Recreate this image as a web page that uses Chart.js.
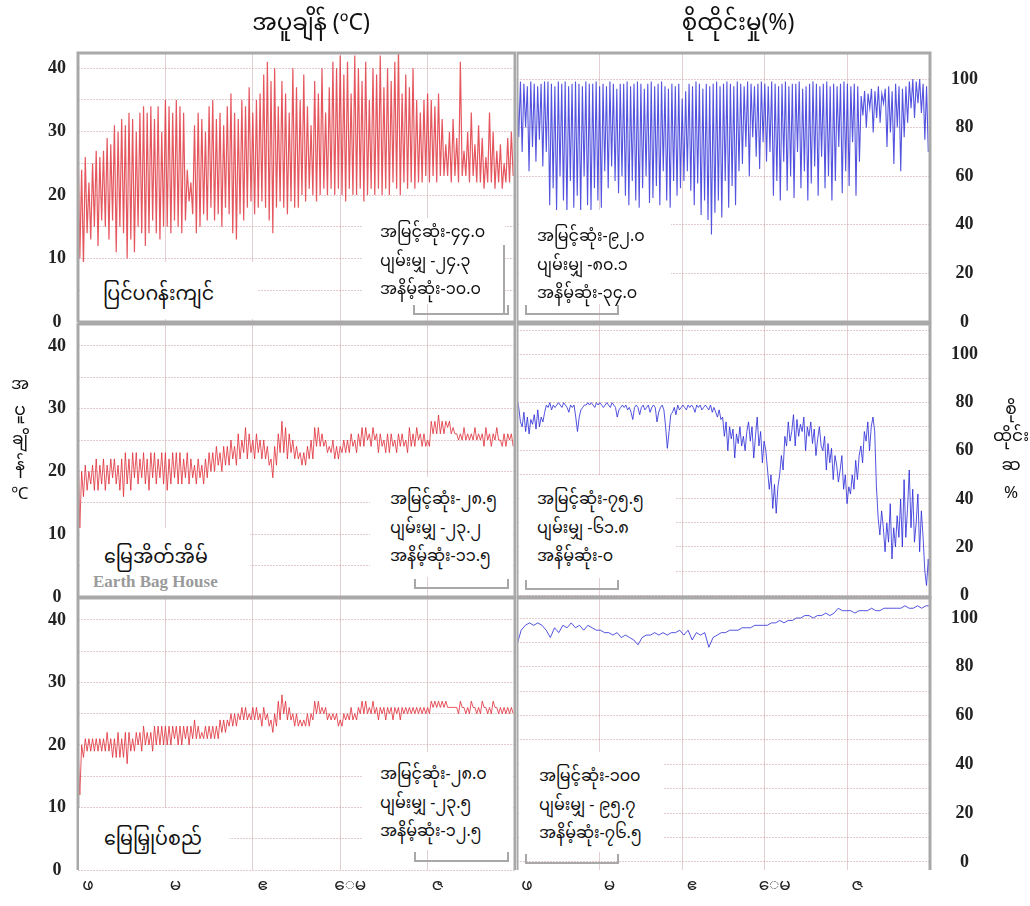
<!DOCTYPE html>
<html>
<head>
<meta charset="utf-8">
<script src="https://cdn.jsdelivr.net/npm/chart.js@4"></script>
<style>
  body { margin: 0; background: #fff; width: 1030px; height: 906px; position: relative; overflow: hidden;
         font-family: "Noto Sans Myanmar", "Padauk", "Myanmar Text", "Noto Sans", sans-serif; color: #111; }
  canvas { position: absolute; }
  .t { position: absolute; white-space: nowrap; }
  .box { position: absolute; background: #fff; z-index: 5; }
  .stat { position: absolute; background: #fff; z-index: 5; font-size: 16px; line-height: 28.5px; }
  .brk { position: absolute; border: 2px solid #a8a8a8; border-top: none; z-index: 6; }
</style>
</head>
<body>
<script>
// ---- data ----
const months = ['ဖ', 'မ', 'ဧ', '\u1031မ', 'ဇ'];

// outside temperature, daily max / min (ºC)
const outTempHi = [29,24,26,22,25,27,26, 27,29,28,31,30,32,31,33,32,30,33,
  34,33,34,32,34,30,35,34,33,35,34,33, 24,22,
  31,33,32,30,34,35,32,33,31,34,36,33,32,35,34,37,33,35,36, 39,41,38,40,34,
  38,36,33,40,37,35,39,34,31,38,36,40,33,37,
  41,40,42,39,41,36,42,40,38,41,35,40,39,42,37,40,38,41,43,36,39,37,40,35,
  33,35,36,35,34,36,32, 28,30,32,29,41,27,30,33,28,31,29,26,33,30,27,28,25,29,30];
const outTempLo = [10,9,14,13,15,12,16, 15,13,16,11,15,14,10,13,11,15,14,
  12,14,16,14,13,15,15,14,16,15,14,16, 19,17,
  14,15,17,16,18,16,17,15,18,17,14,13,17,16,18,19,17,18,19, 18,16,14,18,19,
  18,17,19,18,18,20,19,21,20,19,20,21,20,21,
  20,21,20,19,21,20,20,21,19,20,21,20,21,20,21,20,22,21,20,22,21,22,21,22,
  22,23,22,23,22,23,23, 23,22,23,22,23,23,22,23,22,22,21,22,22,21,22,21,22,22,23];

// outside humidity, daily max / min (%)
const outHumHi = [98,99,98,97,99,98,97,98,99, 99,98,97,99,98,99,97,98,99,98,97,99,98,98,99,97,
  98,97,99,98,96,98, 98,99,97,98,99,98,96,98,99,97,98,99,97,96,98,97,98,
  92,95,98,97,99,98,96,98, 97, 98,99,97,98,99,98,97,99, 98,97,99,98,97,98,99,98,97,
  99,98,97,98,99,97,98,98,99,96,97,98,99,98,97,98,99,97,98,97,98,99,98,97,98,97,
  93,95,94,96,95,97,94, 96,97,95,98,97,96,97, 99,100,99,100,98,97];
const outHumLo = [76,70,80,62,72,66,75,64,70, 48,55,46,60,50,45,58,47,52,45,60,48,46,55,50,47,
  62,55,64,58,53,60, 52,48,58,50,47,55,60,49,51,56,48,62,50,47,58,52,55,
  58,62,54,48,57,44,50,42, 36, 45,50,43,58,47,56,48,62, 65,72,60,76,68,63,74,66,70,
  52,58,50,66,54,60,51,70,55,62,50,57,64,52,68,55,60,50,58,72,53,62,56,74,52,66,
  85,80,88,78,84,82,90, 72,78,65,80,62,76,82, 88,84,90,86,75,70];

// earth bag house temperature, daily max / min (ºC)
const bagTempHi = [25, 20,21,20,21,22, 21,22,21,22,22,21,22,23,22,23, 23,22,23,22,23,23,22,
  23,23,22,23,23,23,22,23, 22,21,22,21,22,23, 23,24,23,24,24,25,24, 26,25,27,26,25,26,25,25,
  24,22,24, 26,28,27,26,25, 24,23,23,24,25, 27,27,26,25, 24,25,24,24,25, 25,26,25,26,
  27,27,26,27, 26,26,25,26,26,25,26,26,25, 27,26,27,26,26,25, 28,28,29,28,28,28,27,
  26,26,27,26,26,27,26,26,27,26,26,27,25,26,26,26];
const bagTempLo = [11, 16,17,18,17,17, 18,17,18,19,18,17,16,18,17,19, 18,19,18,17,19,18,19,
  18,17,18,19,18,18,19,18, 19,18,19,18,19,20, 20,21,20,21,21,22,21, 22,23,22,23,22,23,22,22,
  21,19,21, 23,23,22,23,22, 22,21,21,22,22, 24,24,24,23, 23,22,22,23,23, 23,24,23,24,
  24,25,24,25, 23,24,23,23,24,23,24,24,23, 24,24,25,24,24,24, 26,26,26,26,27,26,26,
  25,25,25,25,25,25,25,24,25,24,25,25,24,24,25,24];

// earth bag house humidity (%)
const bagHum = [82,78, 72,70,76,68,74,67,73,71,75,69,77,70,74,72,76, 79,78,80,77,79,78,
  79,80,79,78,80,79,78,76,79,78,79,74,68,74, 77,78,79,
  79,80,79,80,79,78,80,79,80,79,78,79,80,79,78,80,79,78,74,77,
  78,79,78,79,77,78,76,73,78,79,78,75,78,79,77,78,79,76,78,79,78,72,76,78,79,77,
  70,61,68,75,
  76,78,75,79,77,78,79,78,77,79,78,79,78,76,79,78,79,77,78,79,78,77,79,76,78,76,74,77,73,
  74,66,72,60,70,65,69,57,67,63,70,62,66,60,68, 72,64,70,57,66,74,62,68,55,64,60,
  52,44,50,36,46,34,45,50, 58,52,66,62,72,64,68,75,62,73,66,71, 68,74,60,70,66,72,63,69,58,65,70,62,
  60,66,52,63,55,61,48,58,54,47,52,58,44,50,38,45,42, 50,44,56,48,58, 62,55,68,64,72,60,70,74,68,
  45,32,25,35,28, 18,30,22,38,15,28,20,33,24, 40,20,48,24,36,52,28,44,22, 30,42,18,35,24,10, 4,15,2];

// buried system temperature, daily max / min (ºC)
const burTempHi = [20, 20,21,21,21,21, 21,21,22,21,21,22,21,22,22,21, 22,22,23,22,22,23,23,
  23,23,23,23,23,23,23,23, 23,24,23,22,23,23, 23,23,24,24,24,25,25, 25,26,26,25,26,26,25,26,
  25,24,25, 27,28,27,26,25, 25,24,24,25,25, 27,27,26,26, 25,25,25,24,25, 25,26,25,26,
  27,27,26,27, 26,26,26,26,26,26,26,26,26, 26,26,26,26,26,26, 27,27,27,27,27,26,26,
  26,27,26,26,27,26,26,27,26,26,27,26,26,26,26,26];
const burTempLo = [12, 18,19,19,19,19, 19,19,19,18,18,18,18,17,19,19, 20,19,20,20,19,20,20,
  20,20,20,21,20,20,21,20, 21,21,21,21,21,21, 21,21,22,22,23,23,23, 24,24,24,24,24,24,23,24,
  23,22,23, 24,25,24,24,23, 23,23,23,23,24, 25,25,25,24, 24,24,23,23,24, 24,24,24,25,
  25,25,25,25, 24,25,24,25,24,25,24,25,25, 25,25,25,25,25,25, 26,26,26,26,26,26,26,
  25,26,25,25,26,25,25,26,25,25,26,25,25,25,25,25];

// buried system humidity (%)
const burHum = [89,95, 97,98,97,98,97, 95,92,96,94, 97,96,98,96,97,95,97, 96,95,95,94,94,93,94,
  92,93,92,91,89,92, 93,93,94,93,94,93,94,94, 95,93,95,91,94,93, 94,88,92,
  93,94,94,95,95,95,96,96,96,97,97,97, 97,98,98,99,98,99,99,100, 100,101,101,100,101,101,102,101,102,
  104,103,103,103,102,103,103,103,104,103,103,104,104,104,104,104,105,104,104,105,104,105,105];

const tempTicks = [0, 10, 20, 30, 40];
const humTicks = [0, 20, 40, 60, 80, 100];

const statsOut = ['အမြင့်ဆုံး-၄၄.၀', 'ပျမ်းမျှ -၂၄.၃', 'အနိမ့်ဆုံး-၁၀.၀'];
const statsOutHum = ['အမြင့်ဆုံး-၉၂.၀', 'ပျမ်းမျှ -၈၀.၁', 'အနိမ့်ဆုံး-၃၄.၀'];
const statsBag = ['အမြင့်ဆုံး-၂၈.၅', 'ပျမ်းမျှ -၂၃.၂', 'အနိမ့်ဆုံး-၁၁.၅'];
const statsBagHum = ['အမြင့်ဆုံး-၇၅.၅', 'ပျမ်းမျှ -၆၁.၈', 'အနိမ့်ဆုံး-၀'];
const statsBur = ['အမြင့်ဆုံး-၂၈.၀', 'ပျမ်းမျှ -၂၃.၅', 'အနိမ့်ဆုံး-၁၂.၅'];
const statsBurHum = ['အမြင့်ဆုံး-၁၀၀', 'ပျမ်းမျှ - ၉၅.၇', 'အနိမ့်ဆုံး-၇၆.၅'];

// ---- helpers ----
const SPAN = 120;
function zigzag(hi, lo) {
  const pts = [];
  hi.forEach((h, i) => { pts.push({x: i, y: h}); pts.push({x: i + 0.5, y: lo[i]}); });
  return pts;
}
function spread(vals) {
  const n = vals.length;
  return vals.map((v, i) => ({x: i * SPAN / (n - 1), y: v}));
}

const RED = 'rgba(222,45,55,0.8)';
const BLUE = 'rgba(40,40,215,0.8)';
const MY_FONT = '"Noto Sans Myanmar", Padauk, "Myanmar Text", sans-serif';
const M = 14;

const frame = {
  id: 'frame',
  afterDraw(chart, args, o) {
    const {ctx, chartArea: a} = chart;
    ctx.save();
    ctx.strokeStyle = '#a9a9a9';
    ctx.lineWidth = 3;
    ctx.beginPath();
    ctx.moveTo(a.left, a.bottom);
    ctx.lineTo(a.left, a.top);
    ctx.lineTo(a.right, a.top);
    ctx.lineTo(a.right, a.bottom);
    if (o.bottom) ctx.lineTo(a.left, a.bottom);
    ctx.stroke();
    ctx.restore();
  }
};

const panels = [
  {side: 'left', top: 53, bottom: 322, min: 0, max: 42.4, data: zigzag(outTempHi, outTempLo), color: RED, lw: 1.2, closed: true},
  {side: 'right', top: 53, bottom: 322, min: 0, max: 110.7, data: zigzag(outHumHi, outHumLo), color: BLUE, lw: 1.1, closed: true},
  {side: 'left', top: 324, bottom: 597, min: 0, max: 43.5, data: zigzag(bagTempHi, bagTempLo), color: RED, lw: 1, closed: true},
  {side: 'right', top: 324, bottom: 597, min: -0.8, max: 112.7, data: spread(bagHum), color: BLUE, lw: 1, closed: true},
  {side: 'left', top: 598, bottom: 870, min: 0, max: 43.5, data: zigzag(burTempHi, burTempLo), color: RED, lw: 1, xLabels: true},
  {side: 'right', top: 598, bottom: 870, min: -3.3, max: 108.2, data: spread(burHum), color: BLUE, lw: 1, xLabels: true}
];

panels.forEach(p => {
  const left = p.side === 'left';
  const c = document.createElement('canvas');
  const w = left ? 486 : 485;
  const h = p.bottom - p.top + M + (p.xLabels ? 36 : M);
  c.width = w; c.height = h;
  c.style.left = (left ? 34 : 517) + 'px';
  c.style.top = (p.top - M) + 'px';
  document.body.appendChild(c);
  const ticks = left ? tempTicks : humTicks;

  new Chart(c, {
    type: 'line',
    data: {
      datasets: [{
        data: p.data,
        borderColor: p.color,
        borderWidth: p.lw,
        pointRadius: 0,
        tension: 0
      }]
    },
    options: {
      responsive: false,
      animation: false,
      devicePixelRatio: 1,
      layout: { padding: { left: 0, right: left ? 5 : 0, top: M, bottom: p.xLabels ? 6 : M } },
      plugins: { legend: { display: false }, tooltip: { enabled: false }, frame: { bottom: p.closed } },
      scales: {
        x: {
          type: 'linear', min: 0, max: SPAN,
          afterFit: s => { s.height = p.xLabels ? 30 : 0; s.paddingLeft = 0; s.paddingRight = 0; },
          grid: { color: 'rgba(205,170,175,0.55)', drawTicks: false },
          border: { display: false },
          ticks: {
            display: !!p.xLabels,
            stepSize: 24,
            padding: 8,
            labelOffset: 10,
            color: '#222',
            font: { family: MY_FONT, size: 17 },
            callback: v => months[v / 24] || ''
          }
        },
        y: {
          position: left ? 'left' : 'right',
          min: p.min, max: p.max,
          afterFit: s => { s.width = left ? 44 : 72; s.paddingTop = 0; s.paddingBottom = 0; },
          grid: { color: 'rgba(200,150,155,0.5)', drawTicks: false },
          border: { display: false, dash: [2, 1] },
          ticks: {
            stepSize: left ? 5 : 10,
            includeBounds: false,
            padding: left ? 12 : 21,
            crossAlign: 'center',
            color: '#222',
            font: { family: '"Liberation Serif", serif', size: 18, weight: 'bold' },
            callback: v => ticks.includes(v) ? String(v) : ''
          }
        }
      }
    },
    plugins: [frame]
  });
});

// ---- text ----
function addText(txt, x, y, size, extra) {
  const d = document.createElement('div');
  d.className = 't';
  d.textContent = txt;
  d.style.left = x + 'px';
  d.style.top = y + 'px';
  d.style.fontSize = size + 'px';
  Object.assign(d.style, extra || {});
  document.body.appendChild(d);
  return d;
}
function addBox(x, y, w, h, cls) {
  const d = document.createElement('div');
  d.className = cls || 'box';
  Object.assign(d.style, {left: x + 'px', top: y + 'px', width: w + 'px', height: h + 'px'});
  document.body.appendChild(d);
  return d;
}
function addStats(lines, x, y, w, h, pl, pt) {
  const d = addBox(x, y, w, h, 'stat');
  d.style.padding = pt + 'px 0 0 ' + pl + 'px';
  d.style.boxSizing = 'border-box';
  d.innerHTML = lines.map(l => '<div>' + l + '</div>').join('');
}
function addStack(parts, x, ys, size) {
  parts.forEach((s, i) => addText(s, x - 25, ys[i] - 11, size,
    {width: '50px', textAlign: 'center', lineHeight: '22px'}));
}

addText('အပူချိန် (ºC)', 311, 0, 23, {transform: 'translateX(-50%)'});
addText('စိုထိုင်းမှု(%)', 738, 0, 23, {transform: 'translateX(-50%)'});

addStack(['အ', 'ပူ', 'ချိ', 'န်', 'ºC'], 20, [385, 411, 440, 466, 495], 17);
addStack(['စို', 'ထိုင်း', 'ဆ', '%'], 1011, [410, 437, 466, 494], 17);

// brackets
addBox(413, 305, 92, 8, 'brk');
addBox(503, 245, 0, 68, 'brk').style.borderLeft = 'none';
addBox(525, 305, 90, 8, 'brk');
addBox(414, 579, 91, 8, 'brk');
addBox(525, 580, 90, 8, 'brk');
addBox(414, 852, 91, 8, 'brk');
addBox(525, 854, 90, 8, 'brk');

// stat boxes
addStats(statsOut, 362, 218, 143, 86, 18, 2);
addStats(statsOutHum, 519, 210, 152, 94, 18, 14);
addStats(statsBag, 370, 477, 142, 100, 20, 10);
addStats(statsBagHum, 519, 475, 157, 103, 18, 12);
addStats(statsBur, 362, 752, 150, 98, 18, 10);
addStats(statsBurHum, 519, 752, 144, 100, 20, 12);

// house name boxes
addBox(80, 262, 178, 57);
addText('ပြင်ပဂန်းကျင်', 103, 275, 19, {zIndex: 7});
addBox(80, 528, 170, 67);
addText('မြေအိတ်အိမ်', 104, 538, 19, {zIndex: 7});
addText('Earth Bag House', 93, 572, 17, {zIndex: 7, color: '#9a9a9a', fontFamily: '"Liberation Serif", serif', fontWeight: 'bold'});
addBox(79, 808, 150, 62);
addText('မြေမြှုပ်စည်', 104, 820, 19, {zIndex: 7});
</script>
</body>
</html>
